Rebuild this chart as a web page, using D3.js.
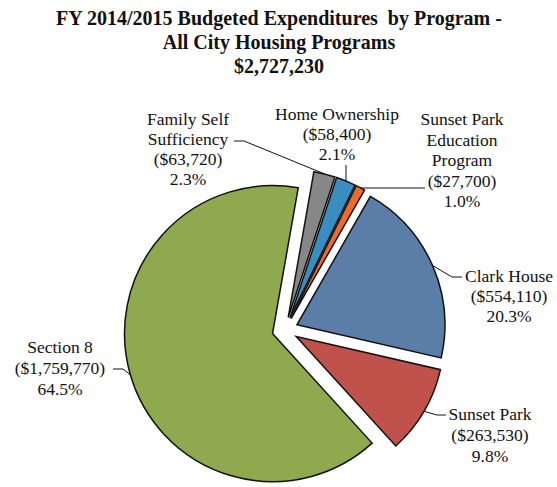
<!DOCTYPE html>
<html>
<head>
<meta charset="utf-8">
<script src="https://cdn.jsdelivr.net/npm/d3@7"></script>
<style>
  html, body { margin: 0; padding: 0; background: #fff; }
  svg { display: block; }
  text { font-family: "Liberation Serif", "Times New Roman", serif; fill: #111; }
</style>
</head>
<body>
<svg id="chart" width="557" height="487"></svg>
<script>
// ---- data ----
const titleLines = ["FY 2014/2015 Budgeted Expenditures\u00a0 by Program -", "All City Housing Programs", "$2,727,230"];
const programs = ["Family Self Sufficiency", "Home Ownership", "Sunset Park Education Program", "Clark House", "Sunset Park", "Section 8"];
const labelNames = [["Family Self", "Sufficiency"], ["Home Ownership"], ["Sunset Park", "Education", "Program"], ["Clark House"], ["Sunset Park"], ["Section 8"]];
const amounts = [63720, 58400, 27700, 554110, 263530, 1759770];
const percents = ["2.3%", "2.1%", "1.0%", "20.3%", "9.8%", "64.5%"];
const colors = ["#878787", "#3a8dc1", "#ee6a2c", "#5b7ea8", "#c0524b", "#8fa94f"];

// ---- layout ----
const svg = d3.select("#chart");
const cx = 285, cy = 330, R = 148, explode = 13;
const deg = Math.PI / 180;

svg.append("g").selectAll("text").data(titleLines).join("text")
  .attr("x", 279).attr("y", (d, i) => 25 + i * 24)
  .attr("text-anchor", "middle")
  .style("font-size", "20px").style("font-weight", "bold")
  .text(d => d);

const pie = d3.pie().sort(null).value(d => d)
  .startAngle(10 * deg).endAngle(370 * deg);
const arcs = pie(amounts);
const arc = d3.arc().innerRadius(0).outerRadius(R);

function offset(a) {
  const m = (a.startAngle + a.endAngle) / 2;
  return [explode * Math.sin(m), -explode * Math.cos(m)];
}
function outerMid(a) {
  const m = (a.startAngle + a.endAngle) / 2;
  const o = offset(a);
  return [cx + o[0] + R * Math.sin(m), cy + o[1] - R * Math.cos(m)];
}

const g = svg.append("g");
g.selectAll("path").data(arcs).join("path")
  .attr("transform", a => { const o = offset(a); return `translate(${cx + o[0]},${cy + o[1]})`; })
  .attr("d", arc)
  .attr("fill", (a, i) => colors[i])
  .attr("stroke", "#111")
  .attr("stroke-width", 1.5)
  .attr("stroke-linejoin", "miter");

// label placement: x center, first baseline, line step, and leader route
const fmt = d3.format(",");
const labelPos = [
  { x: 188, y: 125, step: 20, leader: p => [[234, 141], [244, 141], p] },
  { x: 337, y: 120, step: 20, leader: p => [[p[0], 165], p] },
  { x: 462, y: 125, step: 20.5, leader: p => [[425, 188], [p[0], 188]] },
  { x: 509, y: 282, step: 20, leader: p => [[462, 277], [452, 277], p] },
  { x: 490, y: 420, step: 21, leader: p => [[446, 415], [437, 415], p] },
  { x: 60, y: 353, step: 21, leader: p => [[113, 369], [123, 369], p] }
];

const lg = svg.append("g");
arcs.forEach((a, i) => {
  const lines = labelNames[i].concat(["($" + fmt(amounts[i]) + ")", percents[i]]);
  const pos = labelPos[i];
  lg.append("g").selectAll("text").data(lines).join("text")
    .attr("x", pos.x).attr("y", (d, k) => pos.y + k * pos.step)
    .attr("text-anchor", "middle")
    .style("font-size", "17.5px")
    .text(d => d);
  const pts = pos.leader(outerMid(a));
  lg.append("path")
    .attr("d", d3.line()(pts))
    .attr("fill", "none").attr("stroke", "#111").attr("stroke-width", 1);
});
</script>
</body>
</html>
